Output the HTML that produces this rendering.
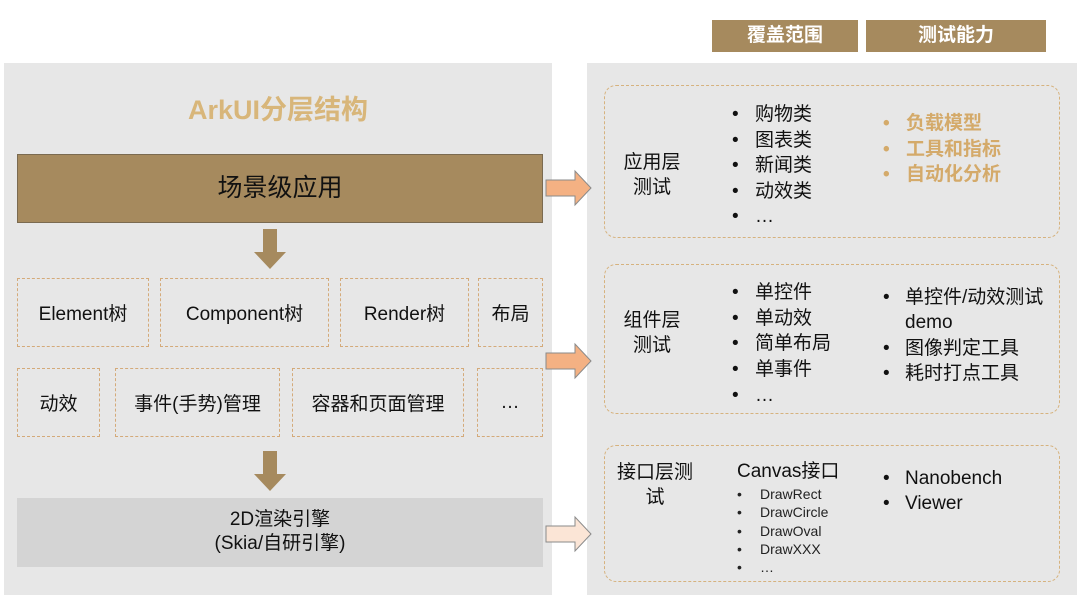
<!DOCTYPE html>
<html><head><meta charset="utf-8"><style>
body{margin:0;width:1080px;height:595px;background:#fff;position:relative;overflow:hidden;font-family:"Liberation Sans","Noto Sans CJK SC",sans-serif;color:#111}
div{position:absolute;box-sizing:border-box}
.t{white-space:nowrap;line-height:24px;height:24px}
.db{border:1px dashed #d4aa7a;display:flex;align-items:center;justify-content:center;font-size:19px;color:#111}
.rb{border:1.5px dashed #d6b27e;border-radius:12px}
.hd{background:#a68a5e;color:#fff;font-weight:bold;font-size:19px;text-align:center;line-height:32px;height:32px;top:20px}
b.u{display:inline-block;width:22px;font-weight:normal}
b.s{display:inline-block;width:23px;font-weight:normal}
b.v{display:inline-block;width:23px}
</style></head><body>
<div style="left:4px;top:63px;width:548px;height:532px;background:#e7e7e7"></div>
<div style="left:587px;top:63px;width:490px;height:532px;background:#e7e7e7"></div>
<div class="hd" style="left:712px;width:146px">覆盖范围</div>
<div class="hd" style="left:866px;width:180px">测试能力</div>

<div class="t" style="left:4px;width:548px;text-align:center;top:94px;height:32px;line-height:32px;font-size:27px;font-weight:bold;color:#d8b67a">ArkUI分层结构</div>
<div style="left:17px;top:154px;width:526px;height:69px;background:#a68a5e;border:1px solid #7a6a50;text-align:center;line-height:67px;font-size:25px;color:#111">场景级应用</div>

<svg style="position:absolute;left:0;top:0" width="1080" height="595">
<polygon points="263,229 277,229 277,252 286,252 270,269 254,252 263,252" fill="#a68a5e"/>
<polygon points="263,451 277,451 277,474 286,474 270,491 254,474 263,474" fill="#a68a5e"/>
<polygon points="546,180 575,180 575,171 591,188 575,205 575,196 546,196" fill="#f4b183" stroke="#8a8a8a" stroke-width="1"/>
<polygon points="546,353 575,353 575,344 591,361 575,378 575,369 546,369" fill="#f4b183" stroke="#8a8a8a" stroke-width="1"/>
<polygon points="546,526 575,526 575,517 591,534 575,551 575,542 546,542" fill="#fbe5d6" stroke="#8a8a8a" stroke-width="1"/>
</svg>

<div class="db" style="left:17px;top:278px;width:132px;height:69px">Element树</div>
<div class="db" style="left:160px;top:278px;width:169px;height:69px">Component树</div>
<div class="db" style="left:340px;top:278px;width:129px;height:69px">Render树</div>
<div class="db" style="left:478px;top:278px;width:65px;height:69px">布局</div>
<div class="db" style="left:17px;top:368px;width:83px;height:69px">动效</div>
<div class="db" style="left:115px;top:368px;width:165px;height:69px">事件(手势)管理</div>
<div class="db" style="left:292px;top:368px;width:172px;height:69px">容器和页面管理</div>
<div class="db" style="left:477px;top:368px;width:66px;height:69px">…</div>

<div style="left:17px;top:498px;width:526px;height:69px;background:#d4d4d4;text-align:center;font-size:19px;line-height:24px;padding-top:10px">2D渲染引擎<br>(Skia/自研引擎)</div>

<div class="rb" style="left:604px;top:85px;width:456px;height:153px"></div>
<div class="rb" style="left:604px;top:264px;width:456px;height:150px"></div>
<div class="rb" style="left:604px;top:445px;width:456px;height:137px"></div>

<div style="left:612px;top:150px;width:80px;text-align:center;font-size:19px;line-height:25px">应用层<br>测试</div>
<div style="left:612px;top:308px;width:80px;text-align:center;font-size:19px;line-height:25px">组件层<br>测试</div>
<div style="left:612px;top:460px;width:86px;text-align:center;font-size:19px;line-height:25px">接口层测<br>试</div>

<div style="left:732px;top:102px;font-size:19px;line-height:25.5px;white-space:nowrap"><b class="s">•</b>购物类<br><b class="s">•</b>图表类<br><b class="s">•</b>新闻类<br><b class="s">•</b>动效类<br><b class="s">•</b>…</div>
<div style="left:883px;top:111px;font-size:19px;line-height:25.5px;white-space:nowrap;color:#d4aa6a;font-weight:bold"><b class="v">•</b>负载模型<br><b class="v">•</b>工具和指标<br><b class="v">•</b>自动化分析</div>

<div style="left:732px;top:280px;font-size:19px;line-height:25.7px;white-space:nowrap"><b class="s">•</b>单控件<br><b class="s">•</b>单动效<br><b class="s">•</b>简单布局<br><b class="s">•</b>单事件<br><b class="s">•</b>…</div>
<div style="left:883px;top:285px;font-size:19px;line-height:25.3px;white-space:nowrap"><b class="u">•</b>单控件/动效测试<br><b class="u"></b>demo<br><b class="u">•</b>图像判定工具<br><b class="u">•</b>耗时打点工具</div>

<div class="t" style="left:737px;top:460px;font-size:19px">Canvas接口</div>
<div style="left:737px;top:485px;font-size:14px;line-height:18.3px;white-space:nowrap;color:#222"><b class="s">•</b>DrawRect<br><b class="s">•</b>DrawCircle<br><b class="s">•</b>DrawOval<br><b class="s">•</b>DrawXXX<br><b class="s">•</b>…</div>
<div style="left:883px;top:467px;font-size:19px;line-height:24.5px;white-space:nowrap"><b class="u">•</b>Nanobench<br><b class="u">•</b>Viewer</div>
</body></html>
